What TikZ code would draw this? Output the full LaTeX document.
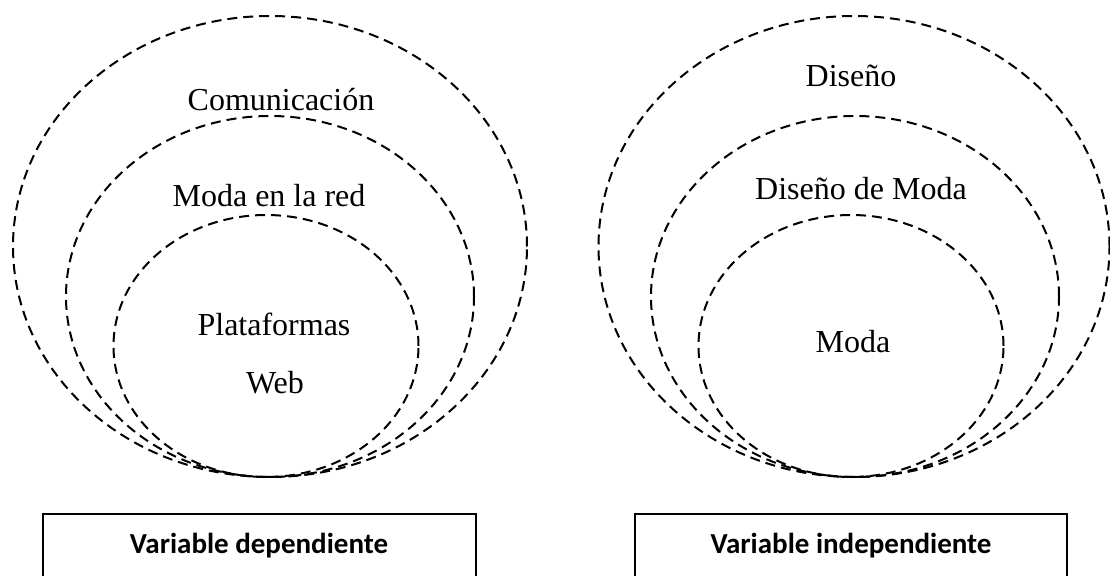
\documentclass[tikz,border=0pt]{standalone}
\usepackage{fontspec}
\setmainfont{Liberation Serif}
\newfontfamily\boxfont{Carlito}
\usetikzlibrary{shapes.geometric}
\tikzset{
  ring/.style={ellipse, draw, line width=2bp, dash pattern=on 10bp off 6bp, inner sep=0pt, outer sep=0pt},
  lbl/.style={anchor=base, inner sep=0pt, font=\fontsize{32bp}{38bp}\selectfont},
  varbox/.style={draw, line width=1.5bp, rectangle, inner sep=0pt, outer sep=0pt},
  boxlbl/.style={anchor=base, inner sep=0pt, font=\boxfont\bfseries\fontsize{29bp}{34bp}\selectfont}
}
\begin{document}
\begin{tikzpicture}[x=1bp,y=-1bp]
\useasboundingbox (0,0) rectangle (1110,576);
\clip (0,0) rectangle (1110,576);
% left group
\node[ring, minimum width=514bp, minimum height=461bp] (l1) at (270,246.5) {};
\node[ring, minimum width=408bp, minimum height=361bp] (l2) at (270,296.5) {};
\node[ring, minimum width=305bp, minimum height=262bp] (l3) at (266,346) {};
\node[lbl] (t1) at (281,111) {Comunicación};
\node[lbl] (t2) at (269,207) {Moda en la red};
\node[lbl] (t3) at (274,335) {Plataformas};
\node[lbl] (t4) at (275,393) {Web};
% right group
\node[ring, minimum width=511bp, minimum height=461bp] (r1) at (854,246.5) {};
\node[ring, minimum width=408bp, minimum height=361bp] (r2) at (855,296.5) {};
\node[ring, minimum width=305bp, minimum height=262bp] (r3) at (851,346) {};
\node[lbl] (s1) at (851,87) {Diseño};
\node[lbl] (s2) at (861,200) {Diseño de Moda};
\node[lbl] (s3) at (853,352) {Moda};
% boxes
\node[varbox, minimum width=433bp, minimum height=100bp] (b1) at (259.5,564) {};
\node[varbox, minimum width=432bp, minimum height=100bp] (b2) at (851,564) {};
\node[boxlbl] (bt1) at (259,553) {Variable dependiente};
\node[boxlbl] (bt2) at (851,553) {Variable independiente};
\end{tikzpicture}
\end{document}
